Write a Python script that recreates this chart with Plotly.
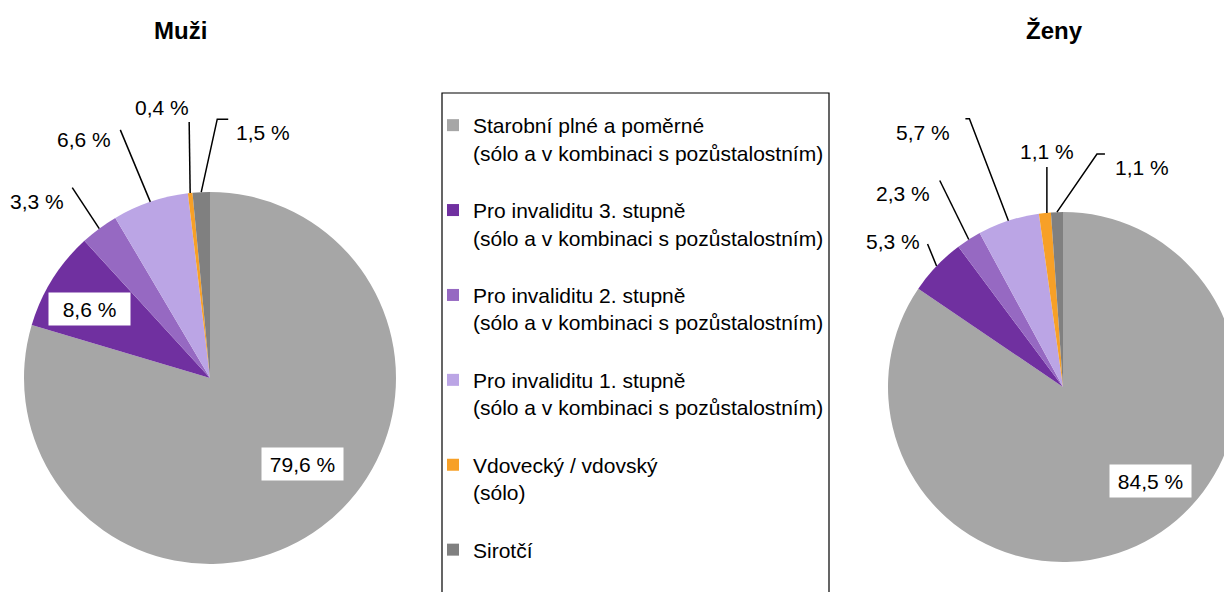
import math

import plotly.graph_objects as go

W, H = 1232, 592
PAGE_OFFSET = 8  # default body margin of the html page
FONT = "Liberation Sans, Arial, sans-serif"

labels = [
    "Starobní plné a poměrné<br>(sólo a v kombinaci s pozůstalostním)",
    "Pro invaliditu 3. stupně<br>(sólo a v kombinaci s pozůstalostním)",
    "Pro invaliditu 2. stupně<br>(sólo a v kombinaci s pozůstalostním)",
    "Pro invaliditu 1. stupně<br>(sólo a v kombinaci s pozůstalostním)",
    "Vdovecký / vdovský<br>(sólo)",
    "Sirotčí",
]
muzi = [79.6, 8.6, 3.3, 6.6, 0.4, 1.5]
zeny = [84.5, 5.3, 2.3, 5.7, 1.1, 1.1]
colors = ["#A6A6A6", "#7030A0", "#9669C2", "#BBA5E5", "#F7A027", "#808080"]

# pie placement in screen pixels (cx, cy, r)
left_pie = (210, 378, 186)
right_pie = (1063, 387, 175)

# label offsets from slice edge midpoint (px): (kind, label dx/dy, leader path)
left_labels = [
    ("in", (-19, -63), None),
    ("in", (37, 30), None),
    ("out", (-62, -27), [(0, 0), (-27, -41)]),
    ("out", (-66, -62), [(0, 0), (-30, -72)]),
    ("out", (-28, -86), [(0, 0), (-1, -71)]),
    ("out", (62, -60), [(0, 0), (16, -73), (27, -73)]),
]
right_labels = [
    ("in", (6, -61), None),
    ("out", (-44, -25), [(0, 0), (-9, -22)]),
    ("out", (-66, -46), [(0, 0), (-29, -59)]),
    ("out", (-85, -88), [(0, 0), (-39, -102), (-43, -102)]),
    ("out", (2, -61), [(2, 0), (2, -46)]),
    ("out", (85, -45), [(0, 0), (40, -58), (48, -58)]),
]


def paper(x, y):
    return (x - PAGE_OFFSET) / W, 1 - (y - PAGE_OFFSET) / H


def domain(pie):
    cx, cy, r = pie
    x0, y1 = paper(cx - r, cy - r)
    x1, y0 = paper(cx + r, cy + r)
    return {"x": [max(0, x0), min(1, x1)], "y": [max(0, y0), min(1, y1)]}


def edge_points(values, pie):
    cx, cy, r = pie
    total = sum(values)
    cum = 0
    pts = []
    for v in values:
        a = (cum + v / 2) / total * 2 * math.pi
        cum += v
        pts.append((cx + r * math.sin(a), cy - r * math.cos(a)))
    return pts


def fmt(v):
    return f"{v:.1f}".replace(".", ",") + " %"


legend_labels = [lab + "<br> " for lab in labels[:-1]] + labels[-1:]

fig = go.Figure()
for name, values, pie, show in [("Muži", muzi, left_pie, True), ("Ženy", zeny, right_pie, False)]:
    fig.add_trace(
        go.Pie(
            labels=legend_labels,
            values=values,
            name=name,
            domain=domain(pie),
            sort=False,
            direction="clockwise",
            rotation=0,
            textinfo="none",
            marker={"colors": colors, "line": {"width": 0}},
            showlegend=show,
            hovertemplate="%{label}<br>%{value} %<extra></extra>",
        )
    )

annotations = []
shapes = []
for values, pie, specs in [(muzi, left_pie, left_labels), (zeny, right_pie, right_labels)]:
    for v, (tx, ty), (kind, (dx, dy), path) in zip(values, edge_points(values, pie), specs):
        lx, ly = paper(tx + dx, ty + dy)
        ann = {
            "x": lx,
            "y": ly,
            "xref": "paper",
            "yref": "paper",
            "xanchor": "center",
            "yanchor": "middle",
            "text": fmt(v),
            "showarrow": False,
            "font": {"size": 21, "color": "black", "family": FONT},
        }
        if kind == "in":
            ann.update(bgcolor="white", width=73, height=24, borderpad=4)
        annotations.append(ann)
        if path:
            d = ""
            for i, (px, py) in enumerate(path):
                x, y = paper(tx + px, ty + py)
                d += ("M" if i == 0 else " L") + f"{x:.5f},{y:.5f}"
            shapes.append(
                {"type": "path", "path": d, "xref": "paper", "yref": "paper",
                 "line": {"color": "black", "width": 1.5}}
            )

for title, (x, y) in [("Muži", (180, 30)), ("Ženy", (1054, 30))]:
    px_, py_ = paper(x, y)
    annotations.append(
        {"x": px_, "y": py_, "xref": "paper", "yref": "paper", "xanchor": "center",
         "yanchor": "middle", "text": f"<b>{title}</b>",
         "showarrow": False, "font": {"size": 24, "color": "black", "family": FONT}}
    )

# legend frame
bx0, by0 = paper(442, 93)
bx1, _ = paper(829, 0)
shapes.append(
    {"type": "rect", "xref": "paper", "yref": "paper", "x0": bx0, "x1": bx1,
     "y0": -0.05, "y1": by0, "line": {"color": "black", "width": 1.2}}
)

lx, ly = paper(433, 105)
fig.update_layout(
    width=W,
    height=H,
    margin={"l": 0, "r": 0, "t": 0, "b": 0},
    paper_bgcolor="white",
    font={"family": FONT, "color": "black"},
    annotations=annotations,
    shapes=shapes,
    legend={
        "x": lx,
        "y": ly,
        "xanchor": "left",
        "yanchor": "top",
        "bgcolor": "rgba(0,0,0,0)",
        "borderwidth": 0,
        "font": {"size": 21, "color": "black", "family": FONT},
        "valign": "top",
        "traceorder": "normal",
    },
)

fig.write_html("out.html")
